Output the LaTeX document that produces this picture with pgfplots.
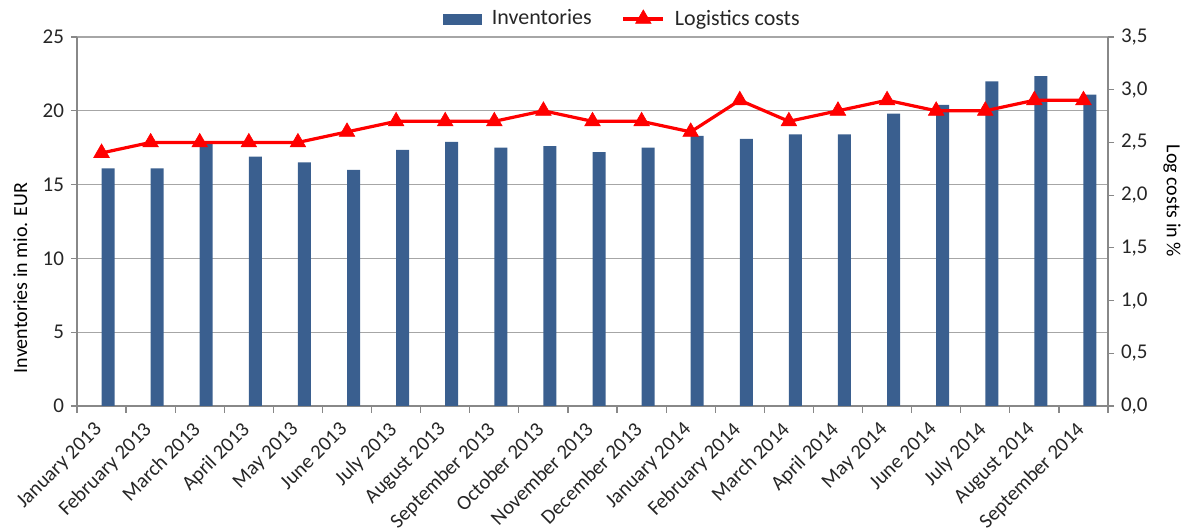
\documentclass[border=0pt]{standalone}
\usepackage{fontspec}
\setmainfont{Carlito}
\usepackage{pgfplots}
\pgfplotsset{compat=1.18}

\definecolor{barblue}{HTML}{3A5F8F}
\definecolor{gridgray}{HTML}{A6A6A6}
\definecolor{axgray}{HTML}{888888}
\definecolor{txt}{HTML}{262626}

\pgfplotsset{
  common/.style={
    at={(38.5pt,61pt)}, anchor=south west,
    scale only axis, width=515.5pt, height=184.5pt,
    xmin=-0.5, xmax=20.5,
    tick align=outside,
    major tick length=3pt,
    axis line style={axgray, line width=0.6pt},
    every tick/.style={axgray, line width=0.6pt},
    tick label style={font=\fontsize{10.5}{12}\selectfont, text=txt},
    /pgf/number format/assume math mode=true,
    label style={font=\fontsize{10.5}{12}\selectfont, text=txt},
  }
}

\begin{document}
\begin{tikzpicture}
\useasboundingbox (0,0) rectangle (599pt,264pt);
% inventories, left axis
\begin{axis}[
  common,
  ymin=0, ymax=25, ytick={0,5,...,25},
  axis x line*=bottom, axis y line*=left,
  ymajorgrids, grid style={gridgray, line width=0.6pt},
  xtick={0,...,20},
  major x tick style={draw=none},
  minor xtick={-0.5,0.5,...,20.5},
  minor tick length=3.5pt,
  minor x tick style={axgray, line width=0.6pt},
  xticklabels={January 2013,February 2013,March 2013,April 2013,May 2013,June 2013,July 2013,August 2013,September 2013,October 2013,November 2013,December 2013,January 2014,February 2014,March 2014,April 2014,May 2014,June 2014,July 2014,August 2014,September 2014},
  x tick label style={rotate=45, anchor=north east, inner sep=1pt, font=\fontsize{10.3}{12}\selectfont, xshift=-5pt, yshift=1pt},
  ylabel={Inventories in mio. EUR},
  every axis y label/.style={at={(axis description cs:-0.055,0.347)}, rotate=90, anchor=center},
]
% bars sit just right of the category centre, as in the source
\addplot[ybar, bar width=6.5pt, bar shift=3.25pt, fill=barblue, draw=none] coordinates {
  (0,16.1) (1,16.1) (2,17.8) (3,16.9) (4,16.5) (5,16.0) (6,17.35)
  (7,17.9) (8,17.5) (9,17.6) (10,17.2) (11,17.5) (12,18.3) (13,18.1)
  (14,18.4) (15,18.4) (16,19.8) (17,20.4) (18,22.0) (19,22.35) (20,21.1)
};
\end{axis}
% logistics costs, right axis
\begin{axis}[
  common,
  ymin=0, ymax=3.5, ytick={0,0.5,...,3.5},
  axis x line=none, axis y line*=right,
  yticklabel style={/pgf/number format/.cd, fixed, fixed zerofill, precision=1, use comma},
  ylabel={Log costs in \%},
  every axis y label/.style={at={(axis description cs:1.062,0.556)}, rotate=-90, anchor=center},
  legend style={at={(axis description cs:0.53,1.049)}, anchor=center, draw=none, fill=none,
    legend columns=2, font=\fontsize{11}{12}\selectfont, text=txt,
    /tikz/every odd column/.append style={column sep=3pt},
    /tikz/every even column/.append style={column sep=13pt}},
  legend image code/.code={\draw[mark repeat=2, mark phase=2, #1] plot coordinates {(0pt,0pt) (10pt,0pt) (20pt,0pt)};},
]
\addlegendimage{legend image code/.code={\fill[barblue] (0pt,-2.5pt) rectangle (19pt,2.5pt);}}
\addlegendentry{Inventories}
\addplot[red, line width=1.6pt, mark=triangle*, mark size=4.5pt, mark options={fill=red, line width=0.3pt}] coordinates {
  (0,2.4) (1,2.5) (2,2.5) (3,2.5) (4,2.5) (5,2.6) (6,2.7)
  (7,2.7) (8,2.7) (9,2.8) (10,2.7) (11,2.7) (12,2.6) (13,2.9)
  (14,2.7) (15,2.8) (16,2.9) (17,2.8) (18,2.8) (19,2.9) (20,2.9)
};
\addlegendentry{Logistics costs}
\end{axis}
\end{tikzpicture}
\end{document}
